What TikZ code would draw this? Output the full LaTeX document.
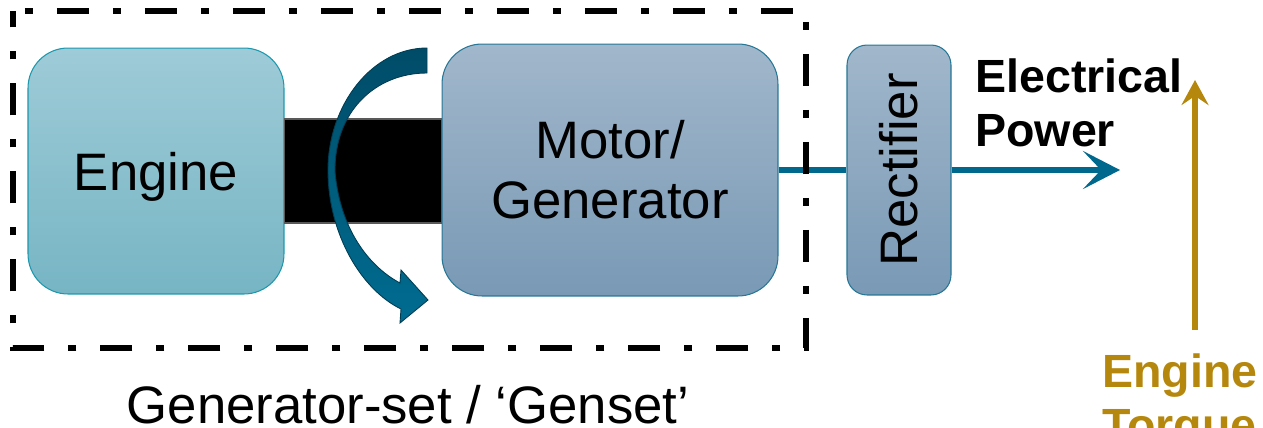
\documentclass[tikz,border=0pt]{standalone}
\usepackage{fontspec}
\setmainfont{Liberation Sans}
\usetikzlibrary{calc,arrows.meta}
\definecolor{engtop}{RGB}{158,203,215}
\definecolor{engbot}{RGB}{119,181,196}
\definecolor{engline}{RGB}{28,152,174}
\definecolor{mottop}{RGB}{161,183,203}
\definecolor{motbot}{RGB}{121,153,181}
\definecolor{motline}{RGB}{38,118,150}
\definecolor{powblue}{RGB}{0,104,140}
\definecolor{rottop}{RGB}{0,76,104}
\definecolor{rotbot}{RGB}{0,108,145}
\definecolor{torqgold}{RGB}{181,135,12}

\begin{document}
\begin{tikzpicture}[x=0.02cm, y=-0.02cm,
	engbox/.style={draw=engline, line width=0.6pt, rounded corners=0.8cm, top color=engtop, bottom color=engbot, inner sep=0pt, align=center, font=\fontsize{30}{34}\selectfont},
	motbox/.style={draw=motline, line width=0.6pt, rounded corners=0.8cm, top color=mottop, bottom color=motbot, inner sep=0pt, align=center, font=\fontsize{30}{34}\selectfont},
	power/.style={draw=powblue, line width=0.12cm},
	torque/.style={draw=torqgold, line width=0.11cm},
	gensetline/.style={line width=0.12cm, dash pattern=on 0.16cm off 0.48cm on 0.64cm off 0.48cm, dash phase=1.52cm}]
			%%%%% START %%%%%
			
			\useasboundingbox (0,0) rectangle (1263,427);
			\clip (0,0) rectangle (1263,427);
			
			\node[engbox, text depth=0pt, minimum width=5.12cm, minimum height=4.92cm] (engine) at (156,171) {Engine};
			\node[motbox, minimum width=6.72cm, minimum height=5.04cm] (motor) at (610,170) {Motor/\\Generator};
			\node[motbox, rounded corners=0.4cm, minimum width=2.08cm, minimum height=5cm] (rect) at (899,170) {\rotatebox{90}{Rectifier}};
			
			\draw[fill=black, draw=black!65, line width=0.6pt] ($(engine.east)+(0,-52)$) rectangle ($(motor.west)+(0,53)$);
			
			\draw[draw=rottop!80!black, line width=0.5pt, top color=rottop, bottom color=rotbot] (427,48) .. controls (372,48) and (328,105) .. (328,170)
				.. controls (328,235) and (362,290) .. (401,309) -- (400,323) -- (428,300) -- (401,270) -- (400,283)
				.. controls (368,266) and (340,228) .. (335,172)
				.. controls (334,112) and (375,73) .. (427,73) -- cycle;
			
			\coordinate (ptip) at (1120,170);
			\draw[power] (motor.east) -- (rect.west);
			\draw[power, -{Stealth[length=0.74cm, width=0.76cm, inset=0.36cm]}] (rect.east) -- (ptip);
			
			\coordinate (tqbot) at (1195,330);
			\coordinate (tqtop) at (1195,80);
			\draw[torque, -{Stealth[length=0.5cm, width=0.54cm, inset=0.18cm]}] (tqbot) -- (tqtop);
			
			\draw[gensetline] (13,11) -- (806,11) -- (806,348) -- (13,348) -- cycle;
			
			\node[anchor=north west, inner sep=0pt, align=left, font=\bfseries\fontsize{26.5}{31}\selectfont] (elecpow) at (975,58) {Electrical\\Power};
			\node[anchor=north west, inner sep=0pt, align=left, text=torqgold, font=\bfseries\fontsize{26.5}{31}\selectfont] (torqlbl) at (1102,353) {Engine\\Torque};
			\node[anchor=base, inner sep=0pt, font=\fontsize{30}{34}\selectfont] (gensetlbl) at (408,423) {Generator-set / ‘Genset’};
			
			%%%%% END %%%%%
		\end{tikzpicture}
\end{document}
